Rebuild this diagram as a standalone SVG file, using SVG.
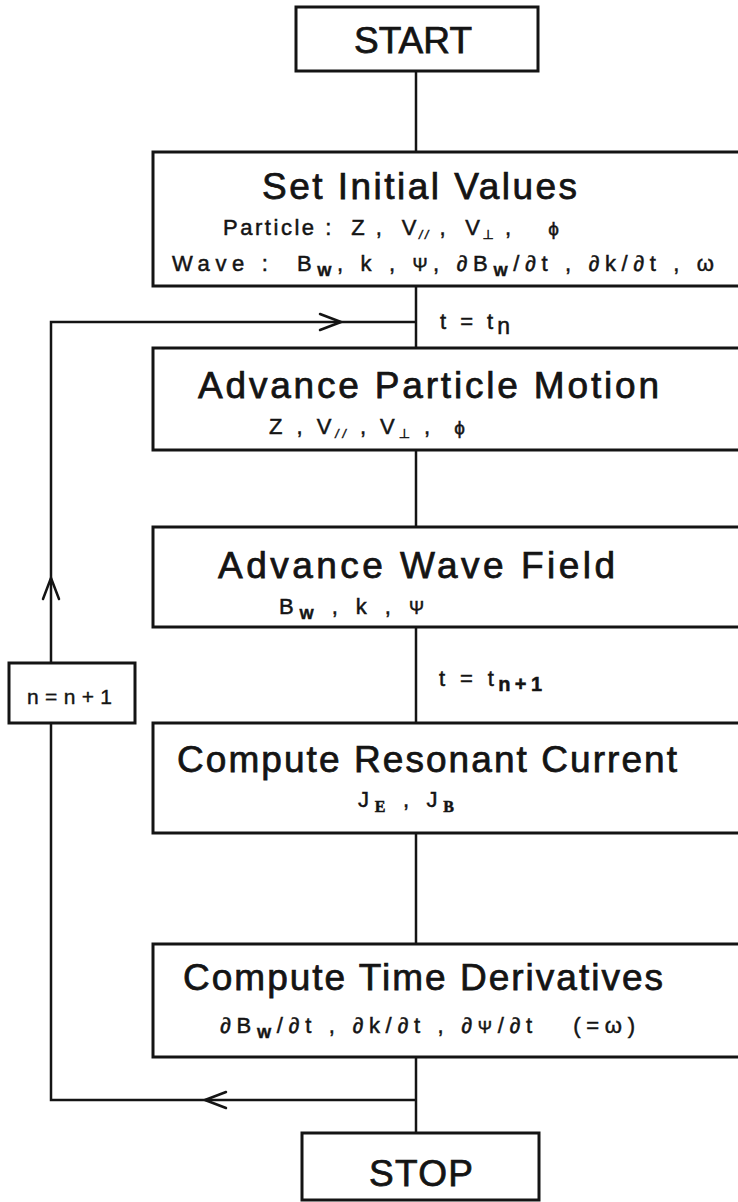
<svg xmlns="http://www.w3.org/2000/svg" width="738" height="1202" viewBox="0 0 738 1202">
<defs>
<style>
.box{fill:#fff;stroke:#141414;stroke-width:3}
.ln{fill:none;stroke:#141414;stroke-width:2.5}
.tt{font-family:'Liberation Sans',Arial,'DejaVu Sans',sans-serif;fill:#141414;stroke:#141414}
.big{font-size:37px;stroke-width:0.75}
.sm{font-size:22px;stroke-width:0.5}
.sub{font-size:15px;font-weight:bold}
.par{font-size:12px;font-style:italic}
.phi{font-size:19px}
.ser{font-family:'Liberation Serif','DejaVu Serif',serif;font-weight:bold;font-size:16px}
</style>
<marker id="chev" viewBox="-24 -10 26 20" refX="0" refY="0" markerWidth="26" markerHeight="20" markerUnits="userSpaceOnUse" orient="auto"><path d="M-21,-8 L0,0 L-21,8" fill="none" stroke="#141414" stroke-width="2.5" stroke-linecap="round" stroke-linejoin="round"/></marker>
</defs>
<rect width="738" height="1202" fill="#fff"/>
<g id="connectors">
<path class="ln" d="M416,71 V152 M416,286 V348 M416,450 V527 M416,627 V723 M416,833 V944 M416,1057 V1133"/>
<path class="ln" d="M416,1100 H205" marker-end="url(#chev)"/>
<path class="ln" d="M205,1100 H51 V578" marker-end="url(#chev)"/>
<path class="ln" d="M51,578 V322 H341" marker-end="url(#chev)"/>
<path class="ln" d="M341,322 H416"/>
<text class="tt sm" x="440" y="329" textLength="70" lengthAdjust="spacing" xml:space="preserve">t = t<tspan dy="5" font-size="23">n</tspan></text>
<text class="tt sm" x="439" y="686" textLength="103" lengthAdjust="spacing" xml:space="preserve">t = t<tspan dy="5" font-size="20" font-weight="bold">n+1</tspan></text>
</g>
<g id="start">
<rect class="box" x="296" y="7" width="242" height="64"/>
<text class="tt big" x="354" y="53" textLength="118" lengthAdjust="spacing">START</text>
</g>
<g id="set-initial-values">
<rect class="box" x="153" y="152" width="600" height="134"/>
<text class="tt big" x="262" y="199" font-size="38" textLength="315" lengthAdjust="spacing">Set Initial Values</text>
<text class="tt sm" x="223" y="235" textLength="336" lengthAdjust="spacing" xml:space="preserve">Particle :  Z ,  V<tspan dy="4" class="par">//</tspan><tspan dy="-4"> ,  V</tspan><tspan dy="4" font-size="13">⊥</tspan><tspan dy="-4"> ,    </tspan><tspan class="phi">ϕ</tspan></text>
<text class="tt sm" x="172" y="271" textLength="542" lengthAdjust="spacing" xml:space="preserve">Wave :  B<tspan dy="5" class="sub">W</tspan><tspan dy="-5">, k , </tspan><tspan font-size="18">Ψ</tspan>, ∂B<tspan dy="5" class="sub">W</tspan><tspan dy="-5">/∂t , ∂k/∂t , ω</tspan></text>
</g>
<g id="advance-particle-motion">
<rect class="box" x="153" y="348" width="600" height="102"/>
<text class="tt big" x="198" y="398" textLength="461" lengthAdjust="spacing">Advance Particle Motion</text>
<text class="tt sm" x="269" y="434" textLength="196" lengthAdjust="spacing" xml:space="preserve">Z , V<tspan dy="4" class="par">//</tspan><tspan dy="-4"> , V</tspan><tspan dy="4" font-size="13">⊥</tspan><tspan dy="-4"> ,  </tspan><tspan class="phi">ϕ</tspan></text>
</g>
<g id="advance-wave-field">
<rect class="box" x="153" y="527" width="600" height="100"/>
<text class="tt big" x="218" y="578" textLength="397" lengthAdjust="spacing">Advance Wave Field</text>
<text class="tt sm" x="279" y="614" textLength="145" lengthAdjust="spacing" xml:space="preserve">B<tspan dy="5" class="sub">W</tspan><tspan dy="-5"> , k , </tspan><tspan font-size="18">Ψ</tspan></text>
</g>
<g id="compute-resonant-current">
<rect class="box" x="153" y="723" width="600" height="110"/>
<text class="tt big" x="177" y="772" textLength="500" lengthAdjust="spacing">Compute Resonant Current</text>
<text class="tt sm" x="358" y="807" textLength="96" lengthAdjust="spacing" xml:space="preserve">J<tspan dy="5" class="ser">E</tspan><tspan dy="-5"> , J</tspan><tspan dy="5" class="ser">B</tspan></text>
</g>
<g id="compute-time-derivatives">
<rect class="box" x="153" y="944" width="600" height="113"/>
<text class="tt big" x="183" y="990" textLength="480" lengthAdjust="spacing">Compute Time Derivatives</text>
<text class="tt sm" x="220" y="1033" textLength="415" lengthAdjust="spacing" xml:space="preserve">∂B<tspan dy="5" class="sub">W</tspan><tspan dy="-5">/∂t , ∂k/∂t , ∂</tspan><tspan font-size="17">Ψ</tspan>/∂t   (=ω)</text>
</g>
<g id="stop">
<rect class="box" x="302" y="1133" width="237" height="67"/>
<text class="tt big" x="369" y="1186" textLength="104" lengthAdjust="spacing">STOP</text>
</g>
<g id="increment">
<rect class="box" x="9" y="663" width="126" height="60"/>
<text class="tt" x="27" y="704" font-size="21" stroke-width="0.4" textLength="85" lengthAdjust="spacing">n=n+1</text>
</g>
</svg>
